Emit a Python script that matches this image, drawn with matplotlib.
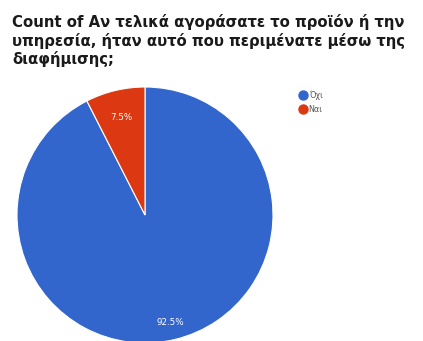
import matplotlib

matplotlib.use("Agg")
import matplotlib.pyplot as plt
import numpy as np
from matplotlib.lines import Line2D

TITLE = ("Count of Αν τελικά αγοράσατε το προϊόν ή την\n"
         "υπηρεσία, ήταν αυτό που περιμένατε μέσω της\n"
         "διαφήμισης;")
LABELS = ["Όχι", "Ναι"]
SHARES = [92.5, 7.5]
COLORS = ["#3366CC", "#DC3912"]
LABEL_DIST = [0.86, 0.78]

W, H = 423, 341
fig = plt.figure(figsize=(W / 100, H / 100), dpi=100)
fig.patch.set_facecolor("white")

# pie centre (145, 215) px from top-left, radius 128 px
cx, cy, r = 145, 215, 128
ax = fig.add_axes([(cx - r) / W, (H - cy - r) / H, 2 * r / W, 2 * r / H])
wedges, _, autotexts = ax.pie(
    SHARES, colors=COLORS, startangle=90, counterclock=False,
    autopct="%.1f%%", pctdistance=0.8,
    wedgeprops={"edgecolor": "white", "linewidth": 0.8},
    textprops={"color": "white", "fontsize": 6.3},
)
# push each percentage label out along its wedge bisector
for w, t, d in zip(wedges, autotexts, LABEL_DIST):
    ang = np.deg2rad((w.theta1 + w.theta2) / 2)
    t.set_position((d * np.cos(ang), d * np.sin(ang)))
ax.set_xlim(-1, 1)
ax.set_ylim(-1, 1)
ax.set_aspect("equal")
ax.axis("off")

fig.text(12 / W, 1 - 14 / H, TITLE, ha="left", va="top", fontsize=10.7,
         fontweight="bold", color="#1a1a1a", linespacing=1.2,
         family="DejaVu Sans")

handles = [Line2D([], [], marker="o", linestyle="none", markersize=6.5,
                  markerfacecolor=c, markeredgecolor=c) for c in COLORS]
fig.legend(handles, LABELS, loc="upper left",
           bbox_to_anchor=(295 / W, 1 - 86 / H), frameon=False,
           fontsize=5.8, labelcolor="#555555", handletextpad=0.2,
           labelspacing=0.7, handlelength=1.0, borderpad=0)

fig.savefig("out.png", dpi=100)
